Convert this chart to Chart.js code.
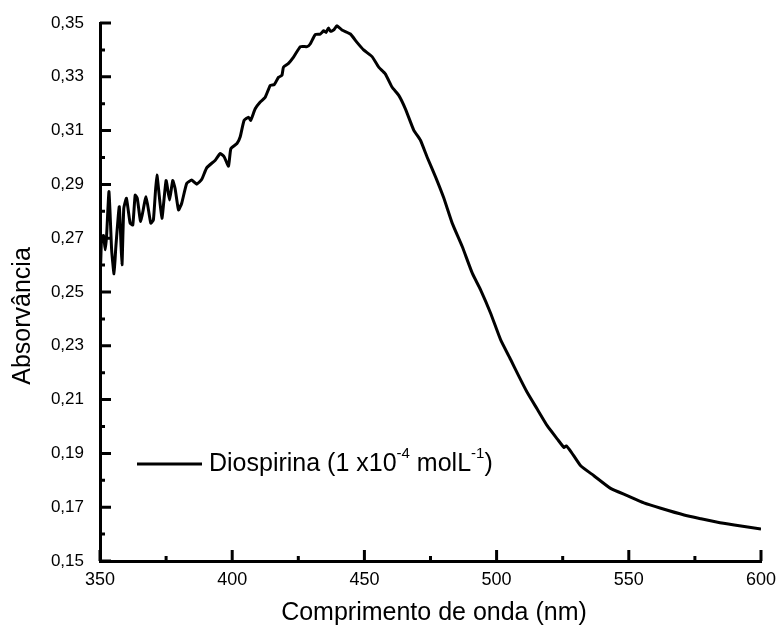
<!DOCTYPE html>
<html>
<head>
<meta charset="utf-8">
<script src="https://cdn.jsdelivr.net/npm/chart.js@4.4.0/dist/chart.umd.min.js"></script>
<style>
    body { margin: 0; background: #fff; }
    canvas { display: block; }
</style>
</head>
<body>
<canvas id="absChart" width="779" height="629"></canvas>
<script>
//--- DATA ---//
const wavelength = [
    350.0, 350.3, 350.6, 351.3, 352.0, 352.5, 353.4, 354.4, 355.3, 356.0,
    357.3, 358.3, 359.0, 360.0, 361.4, 362.4, 363.3, 364.1, 365.4, 367.4,
    369.2, 370.2, 371.5, 373.4, 375.0, 376.3, 377.5, 378.4, 379.7, 380.9,
    382.8, 384.7, 386.6, 388.5, 390.4, 393.6, 395.5, 397.0, 398.6, 399.5,
    401.8, 403.0, 404.5, 406.2, 407.0, 408.7, 410.6, 412.5, 414.4, 415.9,
    417.5, 418.8, 419.4, 421.3, 423.2, 425.8, 428.3, 429.5, 431.4, 433.3,
    434.6, 435.5, 436.4, 437.2, 438.4, 439.6, 441.5, 444.7, 447.2, 449.7,
    452.9, 455.4, 457.9, 460.5, 463.0, 465.5, 468.7, 471.2, 473.7, 476.9,
    480.0, 483.2, 487.0, 490.8, 493.9, 497.7, 501.5, 505.3, 508.4, 511.6,
    515.4, 519.2, 523.0, 525.5, 526.3, 528.3, 531.8, 536.8, 543.1, 549.4,
    555.7, 562.1, 570.9, 577.3, 583.6, 589.9, 600.0
];
const absorbance = [
    0.2546, 0.2620, 0.2700, 0.2710, 0.2657, 0.2710, 0.2873, 0.2657, 0.2568, 0.2669,
    0.2817, 0.2601, 0.2811, 0.2848, 0.2756, 0.2749, 0.2860, 0.2848, 0.2762, 0.2854,
    0.2756, 0.2768, 0.2935, 0.2774, 0.2914, 0.2842, 0.2914, 0.2885, 0.2805, 0.2830,
    0.2904, 0.2916, 0.2901, 0.2919, 0.2962, 0.2990, 0.3015, 0.3002, 0.2968, 0.3033,
    0.3052, 0.3076, 0.3138, 0.3150, 0.3138, 0.3181, 0.3206, 0.3224, 0.3268, 0.3271,
    0.3298, 0.3305, 0.3336, 0.3350, 0.3373, 0.3412, 0.3412, 0.3422, 0.3457, 0.3459,
    0.3471, 0.3465, 0.3481, 0.3469, 0.3474, 0.3490, 0.3474, 0.3459, 0.3428, 0.3400,
    0.3375, 0.3336, 0.3311, 0.3261, 0.3231, 0.3181, 0.3101, 0.3064, 0.3002, 0.2928,
    0.2850, 0.2756, 0.2669, 0.2570, 0.2509, 0.2422, 0.2323, 0.2249, 0.2187, 0.2126,
    0.2064, 0.2002, 0.1953, 0.1922, 0.1928, 0.1904, 0.1854, 0.1817, 0.1770, 0.1743,
    0.1716, 0.1696, 0.1671, 0.1657, 0.1644, 0.1634, 0.1619
];
const xTickValues = [350, 400, 450, 500, 550, 600];
const xTickLabels = ["350", "400", "450", "500", "550", "600"];
const xMinorTicks = [375, 425, 475, 525, 575];
const yTickValues = [0.15, 0.17, 0.19, 0.21, 0.23, 0.25, 0.27, 0.29, 0.31, 0.33, 0.35];
const yTickLabels = ["0,15", "0,17", "0,19", "0,21", "0,23", "0,25", "0,27", "0,29", "0,31", "0,33", "0,35"];
const yMinorTicks = [0.16, 0.18, 0.20, 0.22, 0.24, 0.26, 0.28, 0.30, 0.32, 0.34];

const FONT = '"Liberation Sans", Arial, sans-serif';

// ticks inside the frame, axis titles and the legend
const frameExtras = {
    id: "frameExtras",
    afterDraw(chart) {
        const ctx = chart.ctx;
        const xs = chart.scales.x, ys = chart.scales.y;
        const area = chart.chartArea;
        ctx.save();
        ctx.strokeStyle = "#000";
        ctx.lineWidth = 3;
        ctx.beginPath();
        xTickValues.forEach((v) => { let px = xs.getPixelForValue(v); ctx.moveTo(px, area.bottom); ctx.lineTo(px, area.bottom - 11); });
        xMinorTicks.forEach((v) => { let px = xs.getPixelForValue(v); ctx.moveTo(px, area.bottom); ctx.lineTo(px, area.bottom - 5); });
        yTickValues.forEach((v) => { let py = ys.getPixelForValue(v); ctx.moveTo(area.left, py); ctx.lineTo(area.left + 11, py); });
        yMinorTicks.forEach((v) => { let py = ys.getPixelForValue(v); ctx.moveTo(area.left, py); ctx.lineTo(area.left + 5, py); });
        ctx.stroke();

        ctx.fillStyle = "#000";
        ctx.textBaseline = "middle";
        ctx.textAlign = "center";
        ctx.font = "25px " + FONT;
        ctx.fillText("Comprimento de onda (nm)", 434, 613);
        ctx.save();
        ctx.translate(23, 316);
        ctx.rotate(-Math.PI / 2);
        ctx.fillText("Absorvância", 0, 0);
        ctx.restore();

        // legend
        ctx.lineWidth = 3;
        ctx.beginPath();
        ctx.moveTo(137, 464);
        ctx.lineTo(202, 464);
        ctx.stroke();
        ctx.textAlign = "left";
        let x = 209, y = 464;
        const parts = [["Diospirina (1 x10", false], ["-4", true], [" molL", false], ["-1", true], [")", false]];
        parts.forEach(([txt, sup]) => {
            ctx.font = (sup ? "15px " : "25px ") + FONT;
            ctx.fillText(txt, x, sup ? y - 10 : y);
            x += ctx.measureText(txt).width;
        });
        ctx.restore();
    }
};

//--- ABSORBANCE SPECTRUM ---//
let absChartCanvas = document.getElementById("absChart").getContext("2d");
var absChart = new Chart(absChartCanvas, {
    type: "line",
    data: {
        datasets: [{
            data: wavelength.map((w, i) => ({ x: w, y: absorbance[i] })),
            borderColor: "#000",
            borderWidth: 3,
            pointRadius: 0,
            tension: 0.15,
            fill: false
        }]
    },
    options: {
        responsive: false,
        animation: false,
        layout: {
            padding: { left: 0, right: 18, top: 23, bottom: 0 }
        },
        plugins: {
            legend: { display: false },
            tooltip: { enabled: false }
        },
        scales: {
            x: {
                type: "linear",
                min: 350,
                max: 600,
                afterBuildTicks: (scale) => { scale.ticks = xTickValues.map((v) => ({ value: v })); },
                afterFit: (scale) => { scale.height = 68; scale.paddingLeft = 0; scale.paddingRight = 0; },
                grid: { display: false, drawTicks: false },
                border: { display: true, width: 3, color: "#000" },
                ticks: {
                    color: "#000",
                    padding: 8,
                    maxRotation: 0,
                    font: { family: FONT, size: 18 },
                    callback: (v, i) => xTickLabels[i]
                }
            },
            y: {
                type: "linear",
                min: 0.15,
                max: 0.35,
                afterBuildTicks: (scale) => { scale.ticks = yTickValues.map((v) => ({ value: v })); },
                afterFit: (scale) => { scale.width = 100; scale.paddingTop = 0; scale.paddingBottom = 0; },
                grid: { display: false, drawTicks: false },
                border: { display: true, width: 3, color: "#000" },
                ticks: {
                    color: "#000",
                    padding: 16,
                    font: { family: FONT, size: 17 },
                    callback: (v, i) => yTickLabels[i]
                }
            }
        }
    },
    plugins: [frameExtras]
});
</script>
</body>
</html>
